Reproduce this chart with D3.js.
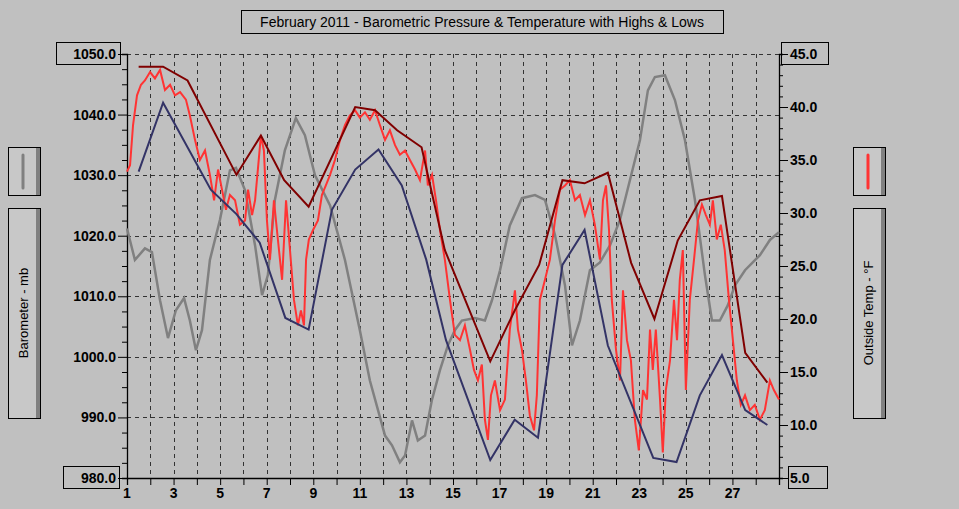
<!DOCTYPE html>
<html><head><meta charset="utf-8">
<script src="https://cdn.jsdelivr.net/npm/d3@7"></script>
<style>
body{margin:0;background:#c0c0c0;}
svg{display:block;font-family:"Liberation Sans Narrow","Liberation Sans",Arial,sans-serif;}
</style></head>
<body><svg id="chart" width="959" height="509"></svg>
<script>
// barometer (mb)
const baroDays = [1.00,1.34,1.77,2.07,2.42,2.76,3.10,3.45,3.70,3.96,4.22,4.56,4.99,5.42,5.68,6.07,6.50,6.80,7.05,7.35,7.78,8.25,8.64,9.07,9.72,10.36,11.00,11.43,11.78,12.08,12.38,12.72,12.94,13.24,13.49,13.80,14.09,14.44,14.78,15.08,15.38,15.94,16.37,16.67,17.02,17.44,17.96,18.52,18.95,19.38,19.81,20.11,20.45,20.88,21.31,21.74,22.17,22.60,23.03,23.37,23.67,24.10,24.53,24.96,25.39,25.82,26.12,26.46,26.80,27.11,27.54,28.18,28.61,29.00];
const baroValues = [1021.2,1016.0,1017.9,1017.3,1009.3,1003.1,1007.7,1009.7,1006.0,1001.1,1004.4,1016.0,1022.6,1030.8,1031.2,1027.5,1018.4,1010.2,1013.5,1025.9,1034.1,1039.4,1036.6,1030.0,1025.0,1016.0,1004.4,996.1,991.2,987.0,985.4,982.6,983.7,989.5,986.2,987.0,992.8,997.8,1001.9,1004.4,1006.0,1006.4,1006.0,1009.3,1014.3,1021.7,1026.2,1026.7,1025.9,1020.1,1011.8,1001.9,1006.0,1014.3,1015.6,1018.4,1022.6,1029.2,1035.8,1044.0,1046.2,1046.5,1042.4,1035.8,1025.9,1013.5,1006.0,1006.0,1008.5,1011.8,1014.3,1016.8,1019.3,1020.6];

// outside temp (F)
const tempDays = [1.00,1.13,1.26,1.43,1.60,1.77,1.99,2.20,2.42,2.63,2.85,3.06,3.28,3.53,3.70,3.92,4.13,4.35,4.56,4.74,4.91,5.08,5.25,5.42,5.64,5.85,6.07,6.20,6.37,6.50,6.62,6.75,6.88,7.01,7.14,7.31,7.48,7.66,7.83,8.00,8.17,8.34,8.47,8.60,8.69,8.81,8.99,9.20,9.37,9.54,9.72,9.93,10.15,10.36,10.57,10.79,11.00,11.22,11.43,11.65,11.86,12.08,12.29,12.51,12.72,12.94,13.15,13.37,13.58,13.80,13.92,14.10,14.27,14.44,14.65,14.87,15.08,15.30,15.51,15.73,15.90,16.07,16.24,16.37,16.50,16.63,16.80,17.02,17.23,17.44,17.66,17.79,17.96,18.13,18.30,18.48,18.60,18.73,18.95,19.16,19.38,19.59,19.81,20.02,20.24,20.45,20.67,20.88,21.09,21.31,21.44,21.57,21.70,21.82,22.00,22.17,22.30,22.47,22.64,22.81,22.98,23.16,23.33,23.46,23.58,23.71,23.89,24.01,24.14,24.32,24.49,24.62,24.74,24.87,25.00,25.17,25.35,25.52,25.69,25.86,26.03,26.16,26.33,26.50,26.67,26.85,27.02,27.19,27.36,27.54,27.75,27.96,28.18,28.39,28.61,28.78,29.00];
const tempValues = [33.9,34.5,38.3,41.1,42.1,42.5,43.3,42.7,43.5,41.6,42.1,41.1,41.4,40.7,39.2,36.9,35.0,35.9,33.6,31.2,34.1,32.2,30.3,31.7,31.2,28.9,29.3,32.2,29.8,31.2,34.1,37.3,35.9,29.3,25.6,31.2,27.5,23.7,31.2,26.5,21.8,19.4,20.8,19.4,25.6,27.5,28.4,29.3,31.7,32.6,33.6,35.0,36.9,38.3,39.2,39.7,39.0,39.5,38.8,39.7,38.3,36.9,37.8,36.4,35.5,35.9,35.0,34.1,33.1,35.9,32.6,33.6,31.2,28.4,25.6,21.8,18.5,18.0,19.4,17.1,15.2,14.2,15.7,10.5,8.6,12.8,14.2,11.4,12.4,19.0,22.7,19.0,17.1,14.2,10.9,9.5,12.8,21.8,23.7,25.6,29.3,32.2,32.6,33.1,31.2,31.7,29.8,31.2,28.9,25.6,31.2,32.6,28.4,21.8,17.1,14.2,22.7,18.0,16.1,10.5,7.6,13.3,12.4,19.0,15.2,19.0,12.4,7.4,13.3,16.1,21.8,18.0,23.7,26.5,13.3,21.8,25.6,29.3,30.8,29.8,28.9,31.2,27.5,28.9,26.5,21.8,18.0,14.2,11.9,12.8,11.4,11.9,10.5,11.4,14.2,13.3,12.4];

// daily highs / lows (F)
const highDays = [1.50,2.55,3.60,5.70,6.75,7.75,8.80,10.80,11.65,12.60,13.65,14.65,16.60,17.65,18.70,19.70,20.65,21.65,22.65,23.65,24.65,25.60,26.55,27.55,28.50];
const highValues = [43.8,43.8,42.5,33.6,37.3,33.1,30.6,40.0,39.7,37.8,36.2,26.5,16.0,20.8,25.1,33.1,32.8,33.8,25.3,20.0,27.4,31.2,31.6,16.8,14.0];
const lowDays = [1.50,2.55,4.60,5.70,6.70,7.80,8.80,9.80,10.80,11.80,12.80,13.85,14.70,16.60,17.65,18.65,19.70,20.65,21.65,23.60,24.60,25.60,26.55,27.55,28.50];
const lowValues = [33.9,40.4,32.2,29.9,27.2,20.1,19.0,30.3,34.1,36.0,32.6,25.6,18.0,6.7,10.5,8.8,25.1,28.4,17.5,6.9,6.5,12.8,16.6,11.4,10.0];

const dayLabels = [1,3,5,7,9,11,13,15,17,19,21,23,25,27];
const baroTicks = [980,990,1000,1010,1020,1030,1040,1050];
const tempTicks = [5,10,15,20,25,30,35,40,45];

const L = 127, R = 779, T = 54, B = 478;
const svg = d3.select("#chart");

const x = d3.scaleLinear().domain([1, 29]).range([L, R]);
const yB = d3.scaleLinear().domain([980, 1050]).range([B, T]);
const yT = d3.scaleLinear().domain([5, 45]).range([B, T]);

// grid
const grid = svg.append("g").attr("stroke", "#333").attr("stroke-dasharray", "4,4").attr("shape-rendering", "crispEdges");
grid.selectAll(".gv").data(d3.range(2, 29)).enter().append("line")
    .attr("x1", d => Math.round(x(d)) + 0.5).attr("x2", d => Math.round(x(d)) + 0.5)
    .attr("y1", T).attr("y2", B);
grid.selectAll(".gh").data(baroTicks.slice(1)).enter().append("line")
    .attr("x1", L).attr("x2", R)
    .attr("y1", d => Math.round(yB(d)) + 0.5).attr("y2", d => Math.round(yB(d)) + 0.5);

// axes
const axL = svg.append("g").attr("transform", `translate(${L},0)`)
    .call(d3.axisLeft(yB).tickValues(d3.range(980, 1050.1, 2.5)).tickSize(5).tickFormat(""));
axL.selectAll(".tick line").filter(d => d % 10 === 0).attr("x2", -9);
const axR = svg.append("g").attr("transform", `translate(${R},0)`)
    .call(d3.axisRight(yT).tickValues(d3.range(5, 45.1, 1)).tickSize(4).tickFormat(""));
axR.selectAll(".tick line").filter(d => d % 5 === 0).attr("x2", 9);
svg.append("g").attr("transform", `translate(0,${B})`)
    .call(d3.axisBottom(x).tickValues(d3.range(1, 30)).tickSize(7).tickFormat(""));
svg.selectAll(".domain").attr("stroke", "#000").attr("stroke-width", 1.3);
svg.selectAll(".tick line").attr("stroke", "#000");

const lblStyle = s => s.attr("font-size", 14).attr("font-weight", "bold").attr("fill", "#000");
svg.append("g").selectAll("text").data(dayLabels).enter().append("text")
    .attr("x", d => x(d)).attr("y", B + 20).attr("text-anchor", "middle").text(d => d).call(lblStyle);
svg.append("g").selectAll("text").data(baroTicks).enter().append("text")
    .attr("x", L - 11).attr("y", d => yB(d) + 5).attr("text-anchor", "end").text(d => d.toFixed(1)).call(lblStyle);
svg.append("g").selectAll("text").data(tempTicks).enter().append("text")
    .attr("x", R + 11).attr("y", d => yT(d) + 5).text(d => d.toFixed(1)).call(lblStyle);

// boxes around end labels
[[56, 42, 64, 22], [63, 466, 56, 22], [781, 42, 47, 22], [788, 466, 39, 22]].forEach(b => {
    svg.append("rect").attr("x", b[0] + 0.5).attr("y", b[1] + 0.5).attr("width", b[2]).attr("height", b[3])
        .attr("fill", "none").attr("stroke", "#000");
});

// series
const line = (yS) => d3.line().x(d => x(d[0])).y(d => yS(d[1]));
const plots = svg.append("g");
plots.append("path").datum(d3.zip(baroDays, baroValues)).attr("d", line(yB))
    .attr("fill", "none").attr("stroke", "#808080").attr("stroke-width", 2.5);
plots.append("path").datum(d3.zip(tempDays, tempValues)).attr("d", line(yT))
    .attr("fill", "none").attr("stroke", "#ff3333").attr("stroke-width", 2);
plots.append("path").datum(d3.zip(lowDays, lowValues)).attr("d", line(yT))
    .attr("fill", "none").attr("stroke", "#333366").attr("stroke-width", 2);
plots.append("path").datum(d3.zip(highDays, highValues)).attr("d", line(yT))
    .attr("fill", "none").attr("stroke", "#800000").attr("stroke-width", 2);

// title
svg.append("rect").attr("x", 241.5).attr("y", 10.5).attr("width", 482).attr("height", 23)
    .attr("fill", "none").attr("stroke", "#000");
svg.append("text").attr("x", 482).attr("y", 27).attr("text-anchor", "middle")
    .attr("font-size", 14).attr("fill", "#000")
    .text("February 2011 - Barometric Pressure & Temperature with Highs & Lows");

// side legend buttons
function button(bx, by, w, h) {
    const g = svg.append("g");
    g.append("rect").attr("x", bx + 0.5).attr("y", by + 0.5).attr("width", w).attr("height", h)
        .attr("fill", "#c8c8c8").attr("stroke", "#000");
    g.append("rect").attr("x", bx + w - 4).attr("y", by + 1).attr("width", 4).attr("height", h - 1).attr("fill", "#808080");
    return g;
}
button(8, 147, 32, 48).append("line").attr("x1", 23).attr("x2", 23).attr("y1", 155).attr("y2", 188)
    .attr("stroke", "#808080").attr("stroke-width", 3).attr("stroke-linecap", "round");
button(8, 208, 32, 210).append("text").attr("transform", "translate(28,313) rotate(-90)")
    .attr("text-anchor", "middle").attr("font-size", 13).text("Barometer - mb");
button(853, 147, 32, 48).append("line").attr("x1", 868).attr("x2", 868).attr("y1", 155).attr("y2", 188)
    .attr("stroke", "#ff3333").attr("stroke-width", 3).attr("stroke-linecap", "round");
button(853, 208, 32, 210).append("text").attr("transform", "translate(873,313) rotate(-90)")
    .attr("text-anchor", "middle").attr("font-size", 13).text("Outside Temp - °F");
</script></body></html>
